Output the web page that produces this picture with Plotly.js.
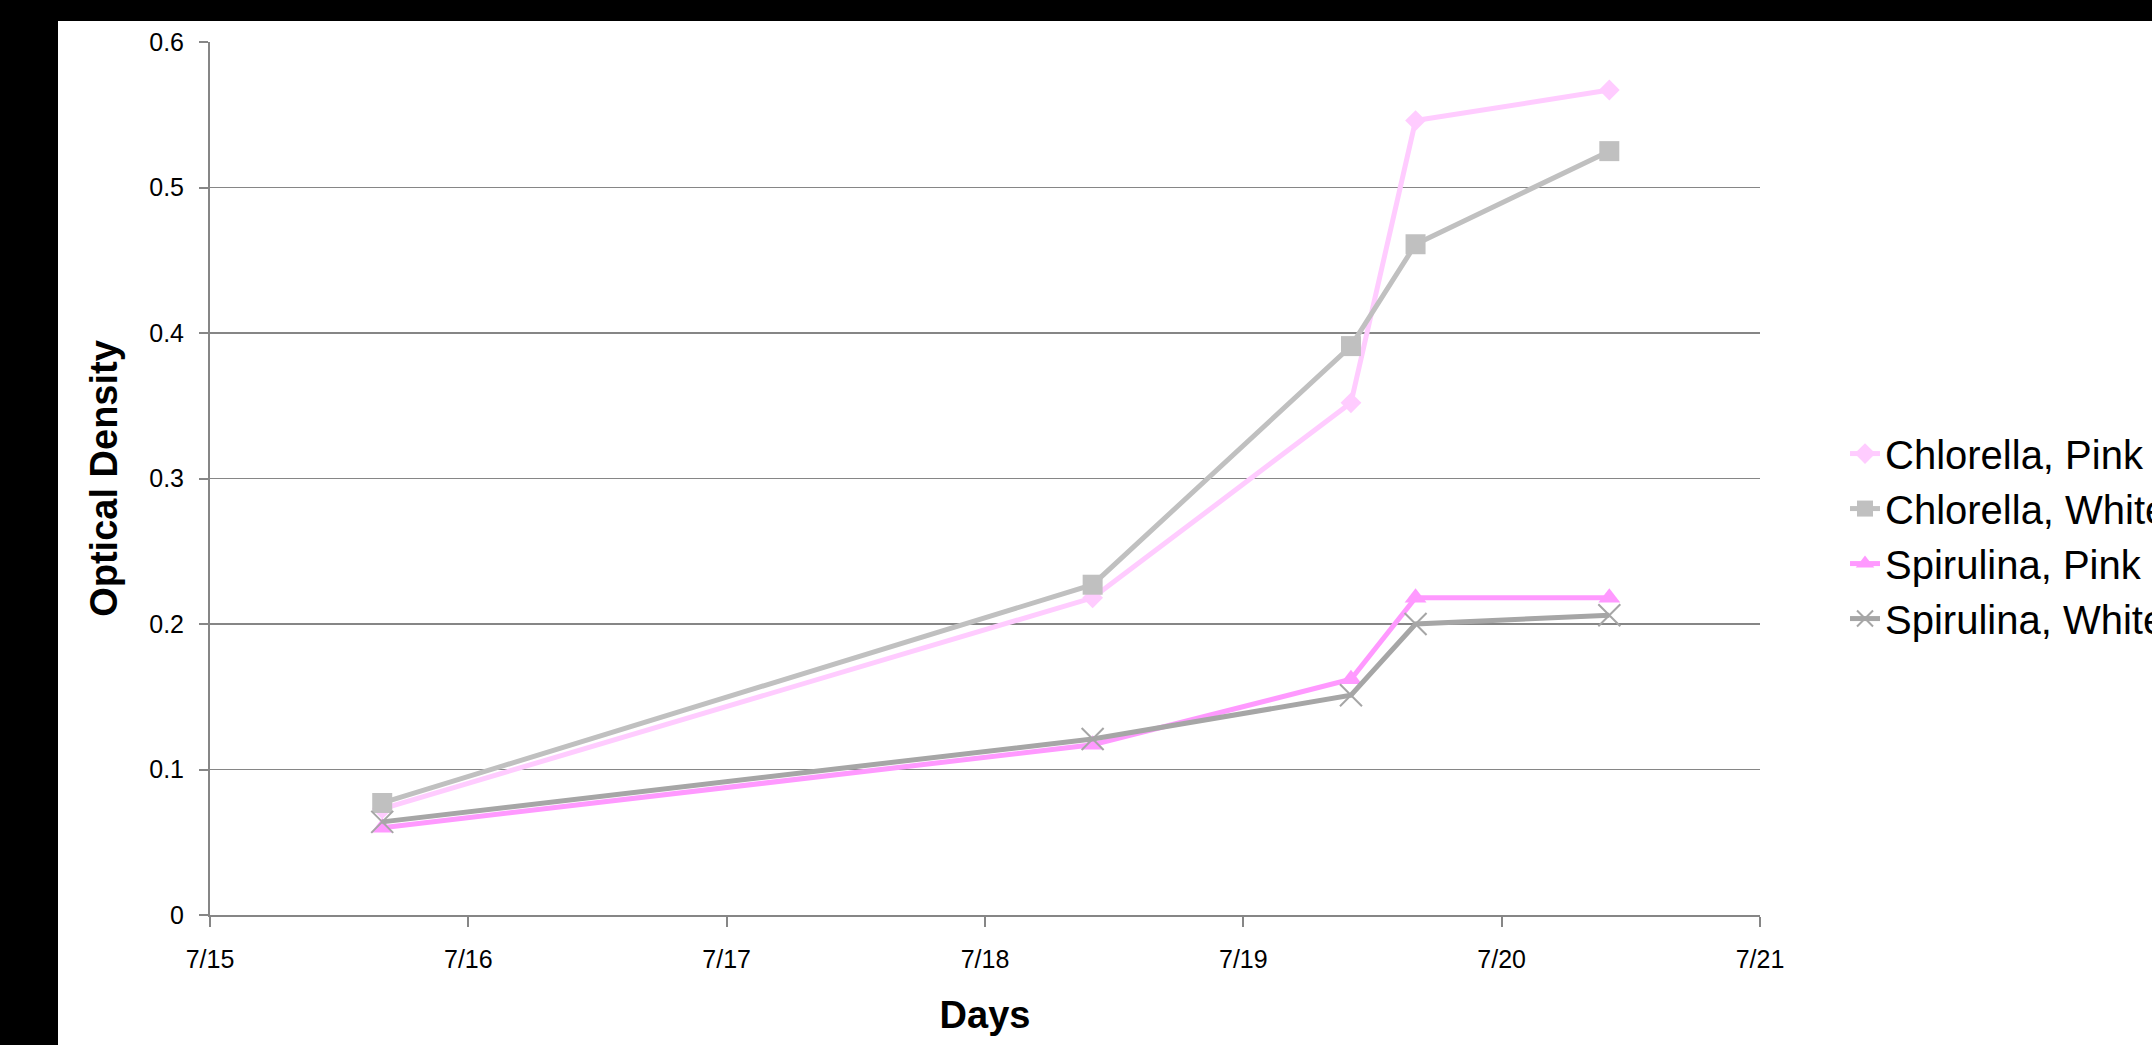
<!DOCTYPE html>
<html>
<head>
<meta charset="utf-8">
<script src="https://cdn.plot.ly/plotly-3.0.1.min.js"></script>
<style>
  html, body { margin: 0; padding: 0; background: #000; width: 2152px; height: 1045px; overflow: hidden; }
  #chart { position: absolute; left: 58px; top: 21px; width: 2094px; height: 1024px; background: #fff; }
</style>
</head>
<body>
<div id="chart"></div>
<script>
// Sampling times (x values)
const days = ['2010-07-15 16:00', '2010-07-18 10:00', '2010-07-19 10:00', '2010-07-19 16:00', '2010-07-20 10:00'];
// Optical density readings
const chlorellaPink  = [0.073, 0.218, 0.352, 0.546, 0.567];
const chlorellaWhite = [0.077, 0.227, 0.391, 0.461, 0.525];
const spirulinaPink  = [0.060, 0.117, 0.162, 0.218, 0.218];
const spirulinaWhite = [0.064, 0.121, 0.151, 0.200, 0.206];
const seriesNames = ['Chlorella, Pink', 'Chlorella, White', 'Spirulina, Pink', 'Spirulina, White'];
const xTickRange = ['2010-07-15', '2010-07-21'];

const traces = [
  { x: days, y: chlorellaPink, name: seriesNames[0], mode: 'lines+markers',
    line: { color: '#FFCCFF', width: 5 },
    marker: { symbol: 'diamond', size: 16, color: '#FFCCFF' } },
  { x: days, y: chlorellaWhite, name: seriesNames[1], mode: 'lines+markers',
    line: { color: '#C0C0C0', width: 5 },
    marker: { symbol: 'square', size: 20, color: '#C0C0C0' } },
  { x: days, y: spirulinaPink, name: seriesNames[2], mode: 'lines+markers',
    line: { color: '#FF99FF', width: 5 },
    marker: { symbol: 'triangle-up', size: 19, color: '#FF99FF' } },
  { x: days, y: spirulinaWhite, name: seriesNames[3], mode: 'lines+markers',
    line: { color: '#A6A6A6', width: 5 },
    marker: { symbol: 'x-thin', size: 22, color: '#A6A6A6', line: { color: '#A6A6A6', width: 2 } } }
];

const layout = {
  width: 2094, height: 1024,
  paper_bgcolor: '#ffffff', plot_bgcolor: '#ffffff',
  font: { family: 'Liberation Sans, Arial, sans-serif', color: '#000' },
  margin: { l: 152, r: 392, t: 21, b: 130, autoexpand: false },
  showlegend: true,
  legend: {
    xref: 'container', yref: 'container',
    x: 0.8534, xanchor: 'left', y: 0.497, yanchor: 'middle',
    font: { size: 40, color: '#000' }, bgcolor: 'rgba(0,0,0,0)', tracegroupgap: 0
  },
  xaxis: {
    type: 'date', range: xTickRange, dtick: 86400000, tick0: '2010-07-15',
    tickformat: '%-m/%-d', showgrid: false, zeroline: false,
    showline: true, linecolor: '#868686', linewidth: 2,
    ticks: 'outside', ticklen: 10, tickcolor: '#868686', tickwidth: 2,
    tickfont: { size: 25 }, ticklabelstandoff: 11,
    title: { text: '<b>Days</b>', font: { size: 38 }, standoff: 29 }
  },
  yaxis: {
    range: [0, 0.6], dtick: 0.1, tick0: 0,
    showgrid: true, gridcolor: '#868686', gridwidth: 1.5, zeroline: false,
    showline: true, linecolor: '#868686', linewidth: 2,
    ticks: 'outside', ticklen: 9, tickcolor: '#868686', tickwidth: 2,
    tickfont: { size: 25 }, ticklabelstandoff: 10,
    title: { text: '<b>Optical Density</b>', font: { size: 38 }, standoff: 20 }
  }
};

Plotly.newPlot('chart', traces, layout, { displayModeBar: false, staticPlot: true });
</script>
</body>
</html>
